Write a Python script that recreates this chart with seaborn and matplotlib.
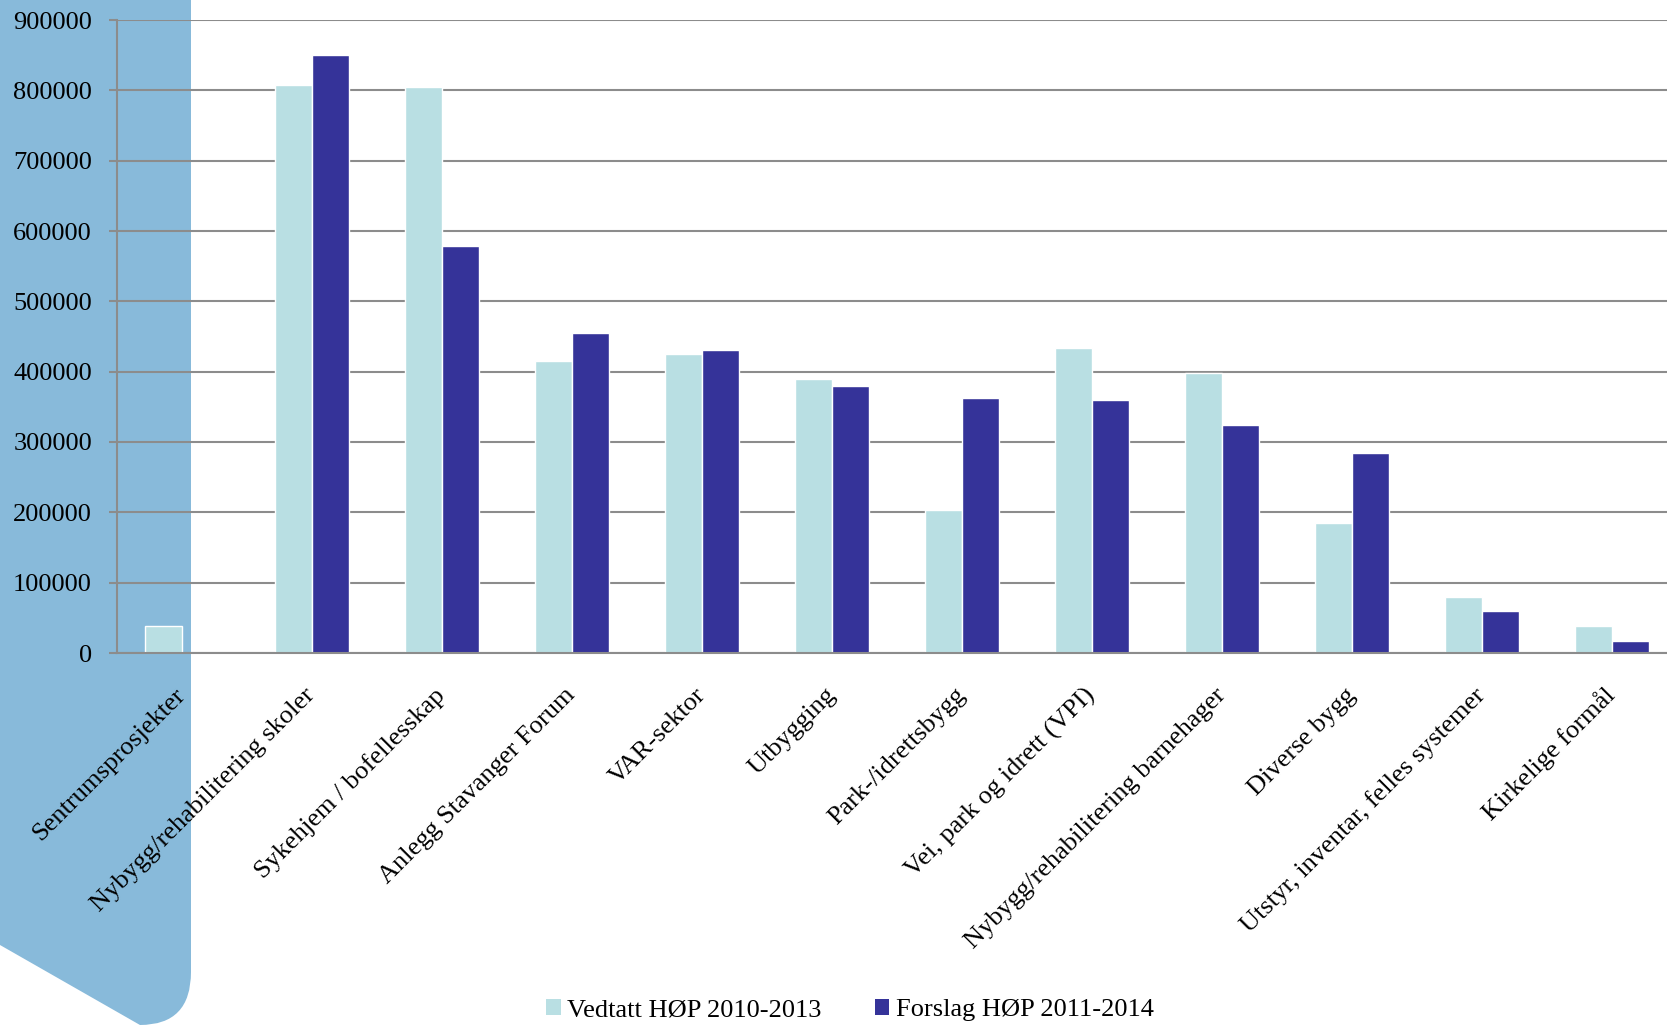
import matplotlib.pyplot as plt
import numpy as np
import pandas as pd
import seaborn as sns
from matplotlib.patches import PathPatch, Patch
from matplotlib.path import Path

categories = [
    "Sentrumsprosjekter",
    "Nybygg/rehabilitering skoler",
    "Sykehjem / bofellesskap",
    "Anlegg Stavanger Forum",
    "VAR-sektor",
    "Utbygging",
    "Park-/idrettsbygg",
    "Vei, park og idrett (VPI)",
    "Nybygg/rehabilitering barnehager",
    "Diverse bygg",
    "Utstyr, inventar, felles systemer",
    "Kirkelige formål",
]
vedtatt = [38000, 808000, 805000, 415000, 425000, 390000, 203000, 434000, 398000, 185000, 79000, 38000]
forslag = [0, 850000, 579000, 455000, 431000, 380000, 363000, 360000, 324000, 284000, 60000, 17000]
series = ["Vedtatt HØP 2010-2013", "Forslag HØP 2011-2014"]
colors = ["#B9DFE3", "#353399"]
yticks = np.arange(0, 900001, 100000)

df = pd.DataFrame({
    "kategori": categories * 2,
    "serie": [series[0]] * len(categories) + [series[1]] * len(categories),
    "verdi": vedtatt + forslag,
})

sns.set_theme(style="white")
plt.rcParams["font.family"] = ["Liberation Serif", "DejaVu Serif"]
plt.rcParams["text.color"] = "black"

W, H = 1667, 1025
fig = plt.figure(figsize=(W / 100, H / 100), dpi=100, facecolor="white")

# blue side panel behind the chart
px = [(0, 0), (191, 0), (191, 972), (191, 1025), (140, 1025), (0, 945), (0, 0)]
codes = [Path.MOVETO, Path.LINETO, Path.LINETO, Path.CURVE3, Path.CURVE3, Path.LINETO, Path.CLOSEPOLY]
verts = [(x / W, 1 - y / H) for x, y in px]
fig.patches.append(PathPatch(Path(verts, codes), transform=fig.transFigure,
                             facecolor="#88BADA", edgecolor="none", zorder=-5))

ax = fig.add_axes([117 / W, 1 - 653 / H, 1560 / W, (653 - 20) / H])
ax.patch.set_visible(False)

sns.barplot(data=df, x="kategori", y="verdi", hue="serie", palette=colors,
            width=0.57, saturation=1, ax=ax, legend=False)

ax.set_ylim(0, 900000)
ax.set_xlim(-0.5, len(categories) - 0.5)
ax.set_yticks(yticks)
ax.set_yticklabels([str(v) for v in yticks], fontsize=19)
ax.set_xlabel("")
ax.set_ylabel("")

ax.set_axisbelow(True)
ax.yaxis.grid(True, color="#8c8c8c", lw=1.5)
for s in ["top", "right"]:
    ax.spines[s].set_visible(False)
for s in ["left", "bottom"]:
    ax.spines[s].set_color("#8c8c8c")
    ax.spines[s].set_linewidth(1.5)

ax.set_xticks(range(len(categories)))
ax.set_xticklabels(categories, rotation=45, ha="right", va="center",
                   rotation_mode="anchor", fontsize=19)
ax.set_xticks(np.arange(-0.5, len(categories), 1), minor=True)
ax.tick_params(axis="x", which="major", length=0, pad=28, labelcolor="black")
ax.tick_params(axis="x", which="minor", length=6, width=1.5, color="#8c8c8c", direction="out")
ax.tick_params(axis="y", length=6, width=1.5, color="#8c8c8c", direction="out", pad=12,
               left=True, labelcolor="black")

handles = [Patch(facecolor=c, edgecolor="none") for c in colors]
fig.legend(handles, series, loc="center", bbox_to_anchor=(850 / W, 1 - 1010 / H),
           ncol=2, frameon=False, fontsize=19, handlelength=0.55, handleheight=0.6,
           handletextpad=0.25, columnspacing=2.0, labelcolor="black")

fig.savefig("out.png", dpi=100)
